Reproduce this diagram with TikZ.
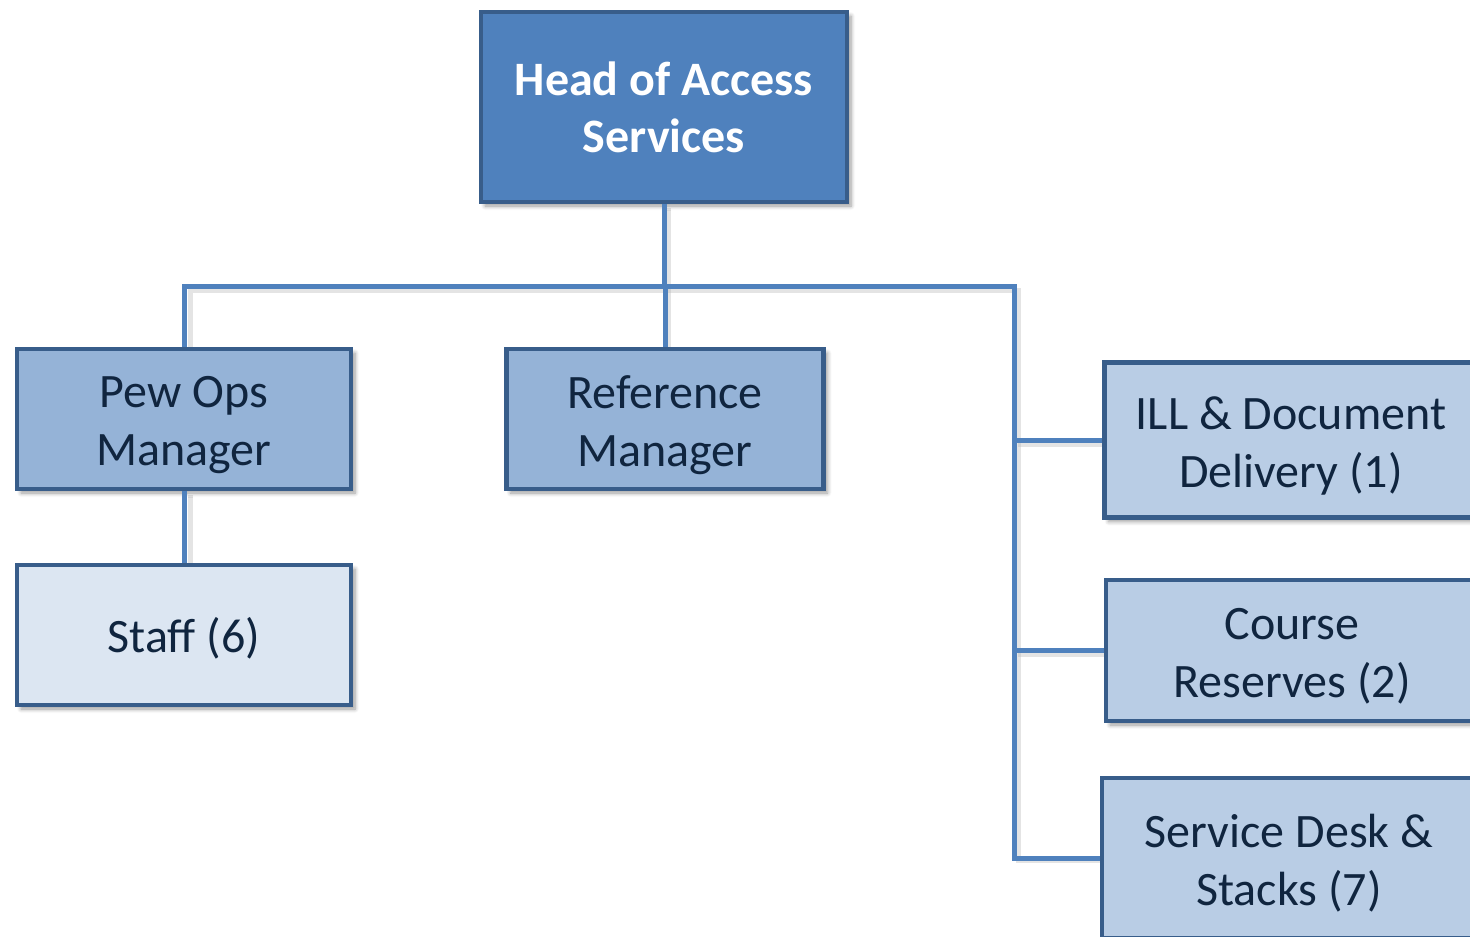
\documentclass[tikz,border=0pt]{standalone}
\usepackage{fontspec}
\setmainfont{Carlito}
\usetikzlibrary{shadows.blur}
\definecolor{accent}{HTML}{4F81BD}
\definecolor{bord}{HTML}{385D8A}
\definecolor{midfill}{HTML}{95B3D7}
\definecolor{lightfill}{HTML}{B9CDE5}
\definecolor{palefill}{HTML}{DCE6F2}
\definecolor{txt}{HTML}{10253F}
\newcommand\mystrut[1]{\rule{0pt}{#1}}
\tikzset{
  box/.style={draw=bord, line width=4.5pt, rectangle, align=center, inner sep=0pt,
    font=\fontsize{48}{58}\selectfont, text=txt,
    blur shadow={shadow xshift=4pt, shadow yshift=-4pt, shadow blur steps=6,
      shadow blur radius=4pt, shadow opacity=40}},
  headbox/.style={box, fill=accent, text=white, font=\fontsize{48}{57}\selectfont\bfseries},
  conn/.style={draw=accent, line width=5pt},
  connshadow/.style={draw=black!30, line width=5pt, opacity=0.35},
}
\begin{document}
\begin{tikzpicture}[x=1pt,y=-1pt]
\useasboundingbox (0,0) rectangle (1470,937);
\begin{scope}
\clip (0,0) rectangle (1470,937);
\coordinate (bus) at (664,286);
\coordinate (rbus) at (1014,286);
% connector shadows
\begin{scope}[shift={(4,4)}]
\draw[connshadow] (664,204) -- (664,286);
\draw[connshadow] (186,347) -- (186,286) -- (1014,286) -- (1014,856) -- (1102,856);
\draw[connshadow] (1014,440) -- (1103,440);
\draw[connshadow] (1014,650) -- (1104,650);
\draw[connshadow] (664,286) -- (664,347);
\draw[connshadow] (186,491) -- (186,563);
\end{scope}
% nodes
\node[headbox, minimum width=366pt, minimum height=190pt] (head) at (664,107) {Head of Access\\Services};
\node[box, fill=midfill, minimum width=334pt, minimum height=140pt] (pew) at (184,419) {\mystrut{43pt}Pew Ops\\Manager};
\node[box, fill=midfill, minimum width=317pt, minimum height=140pt] (ref) at (665,419) {\mystrut{46pt}Reference\\Manager};
\node[box, fill=palefill, minimum width=334pt, minimum height=140pt] (staff) at (184,635) {\mystrut{42pt}Staff (6)};
\node[box, fill=lightfill, minimum width=373pt, minimum height=155pt] (ill) at (1291,440) {\mystrut{45pt}ILL \& Document\\Delivery (1)};
\node[box, fill=lightfill, minimum width=372pt, minimum height=141pt] (course) at (1292,650.5) {\mystrut{43pt}Course\\Reserves (2)};
\node[box, fill=lightfill, minimum width=374pt, minimum height=160pt] (svc) at (1289,858) {\mystrut{44pt}Service Desk \&\\Stacks (7)};
% connectors
\draw[conn] (head.south) -- (bus);
\draw[conn] (ref.north) -- (ref.north |- bus);
\draw[conn] (pew.north) |- (rbus) -- (rbus |- svc.west) -- (svc.west);
\draw[conn] (rbus |- ill.west) -- (ill.west);
\draw[conn] (rbus |- course.west) -- (course.west);
\draw[conn] (pew.south) -- (staff.north);
\end{scope}
\end{tikzpicture}
\end{document}
